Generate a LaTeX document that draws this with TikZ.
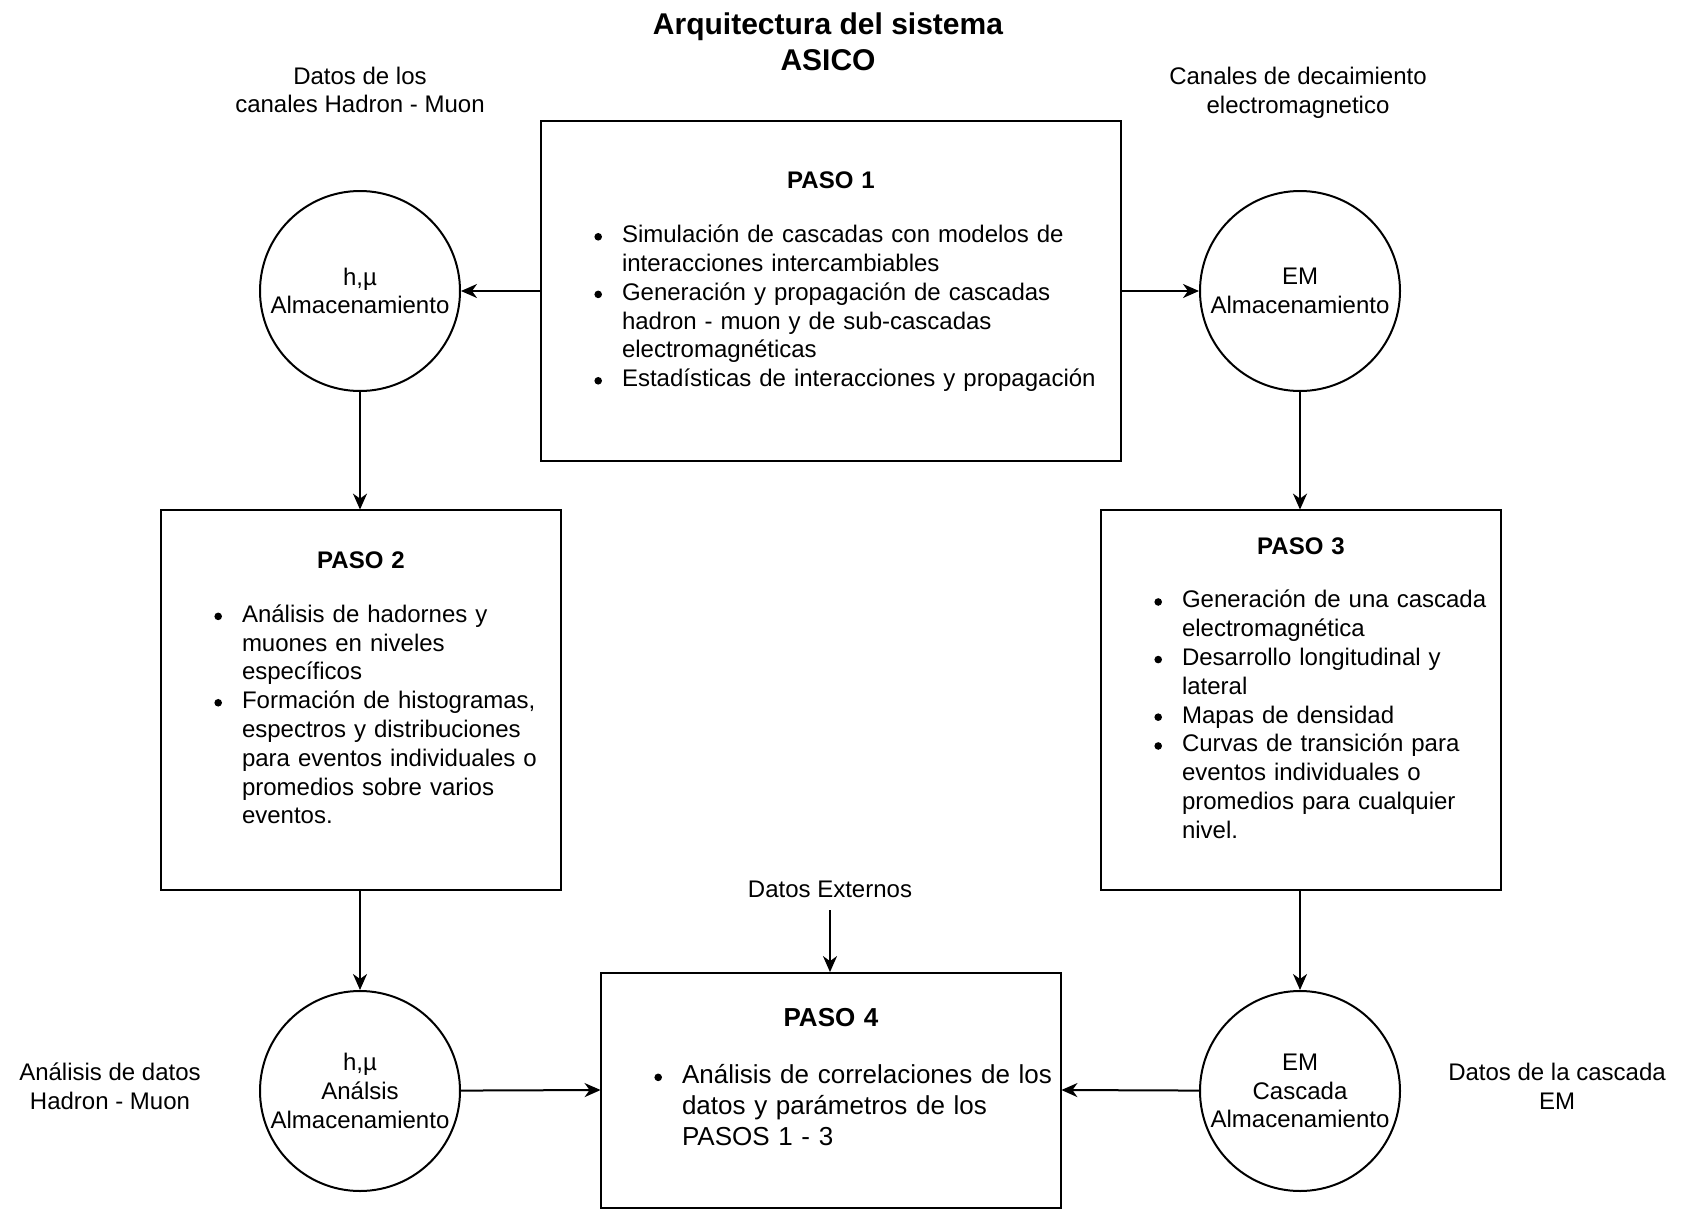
\documentclass[tikz,border=0pt]{standalone}
\usepackage{fontspec}
\setmainfont{Liberation Sans}
\usepackage{enumitem}
\usetikzlibrary{positioning, arrows.meta}

% viñeta redonda como la del original
\newcommand{\punto}{\tikz[baseline=-3pt, x=1pt, y=1pt]\fill (0,0) circle[radius=1.9pt];}
% lista de viñetas dentro de los pasos (#1 = sangria)
\newenvironment{pasolist}[1]{\begin{itemize}[nosep, leftmargin=#1, labelsep=10pt, label=\punto]}{\end{itemize}}
% margen inferior que no se pierde al final del nodo
\newcommand{\finpaso}[1]{\par\vskip#1\hrule height 0pt width 0pt}

\begin{document}
\begin{tikzpicture}[x=0.5pt, y=-0.5pt, line width=1pt,
    pasobox/.style={draw, align=left, inner sep=0pt, font=\fontsize{12}{14.4}\selectfont},
    almacen/.style={draw, circle, minimum size=100pt, inner sep=0pt, align=center,
                    font=\fontsize{12}{14.4}\selectfont},
    etiqueta/.style={align=center, inner sep=0pt, font=\fontsize{12}{14.4}\selectfont},
    flecha/.style={-{Stealth[length=8pt, width=7pt, inset=2.5pt]}}]
  \useasboundingbox (0,0) rectangle (1682,1210);

  % titulo
  \node[align=center, font=\bfseries\fontsize{15}{18}\selectfont] (titulo) at (828,42)
    {Arquitectura del sistema\\ASICO};

  % paso 1
  \node[pasobox, minimum width=290pt, minimum height=170pt, text width=276pt] (paso1) at (831,291) {
    {\centering\textbf{PASO 1}\par}\vspace{12.5pt}
    \begin{pasolist}{33.5pt}
      \item Simulación de cascadas con modelos de\\interacciones intercambiables
      \item Generación y propagación de cascadas\\hadron - muon y de sub-cascadas\\electromagnéticas
      \item Estadísticas de interacciones y propagación
    \end{pasolist}\finpaso{9pt}};

  % almacenamientos superiores
  \node[almacen] (hmuA) at (360,291) {h,µ\\Almacenamiento};
  \node[almacen] (emA) at (1300,291) {EM\\Almacenamiento};
  \node[etiqueta] (hmuDatos) at (360,90) {Datos de los\\canales Hadron - Muon};
  \node[etiqueta] (emDatos) at (1298,93) {Canales de decaimiento\\electromagnetico};

  % paso 2
  \node[pasobox, minimum width=200pt, minimum height=190pt, text width=190pt] (paso2) at (361,700) {
    {\centering\textbf{PASO 2}\par}\vspace{12.5pt}
    \begin{pasolist}{35.5pt}
      \item Análisis de hadornes y\\muones en niveles\\específicos
      \item Formación de histogramas,\\espectros y distribuciones\\para eventos individuales o\\promedios sobre varios\\eventos.
    \end{pasolist}\finpaso{12pt}};

  % paso 3
  \node[pasobox, minimum width=200pt, minimum height=190pt, text width=196pt] (paso3) at (1301,700) {
    {\centering\textbf{PASO 3}\par}\vspace{12.5pt}
    \begin{pasolist}{38.5pt}
      \item Generación de una cascada\\electromagnética
      \item Desarrollo longitudinal y\\lateral
      \item Mapas de densidad
      \item Curvas de transición para\\eventos individuales o\\promedios para cualquier\\nivel.
    \end{pasolist}\finpaso{12pt}};

  % paso 4
  \node[pasobox, font=\fontsize{13}{15.6}\selectfont, minimum width=230pt, minimum height=117.5pt,
        text width=226pt] (paso4) at (831,1090) {
    {\centering\textbf{PASO 4}\par}\vspace{13pt}
    \begin{pasolist}{38.5pt}
      \item Análisis de correlaciones de los\\datos y parámetros de los\\PASOS 1 - 3
    \end{pasolist}\finpaso{13pt}};
  \node[etiqueta] (externos) at (830,889) {Datos Externos};

  % almacenamientos inferiores
  \node[almacen] (hmuB) at (360,1091) {h,µ\\Análsis\\Almacenamiento};
  \node[almacen] (emB) at (1300,1091) {EM\\Cascada\\Almacenamiento};
  \node[etiqueta] (hmuAnalisis) at (110,1086) {Análisis de datos\\Hadron - Muon};
  \node[etiqueta] (emCascada) at (1557,1086) {Datos de la cascada\\EM};

  % flechas
  \draw[flecha] (paso1.west) -- (hmuA);
  \draw[flecha] (paso1.east) -- (emA);
  \draw[flecha] (hmuA) -- (paso2.north -| hmuA);
  \draw[flecha] (emA) -- (paso3.north -| emA);
  \draw[flecha] (paso2.south -| hmuB) -- (hmuB);
  \draw[flecha] (paso3.south -| emB) -- (emB);
  \draw[flecha] (hmuB) -- (paso4.west);
  \draw[flecha] (emB) -- (paso4.east);
  \draw[flecha] ([yshift=-6pt]externos.south) -- (paso4.north -| externos);
\end{tikzpicture}
\end{document}
